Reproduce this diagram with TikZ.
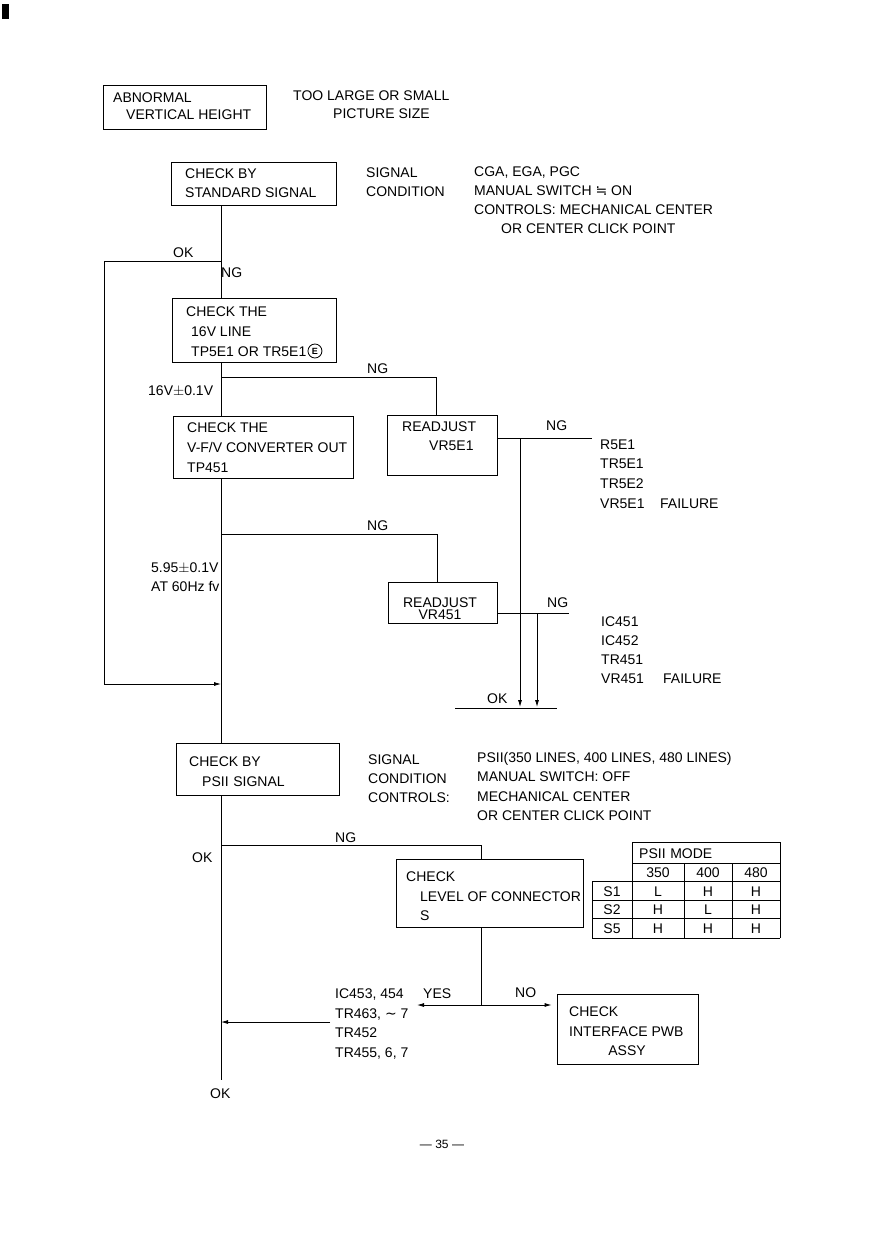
\documentclass[tikz,border=0pt]{standalone}
\usepackage{fontspec}
\setmainfont{Liberation Sans}
\newfontfamily\symf{DejaVu Sans}
\usetikzlibrary{arrows.meta}
\begin{document}
\begin{tikzpicture}[x=1pt,y=-1pt,
  every node/.style={inner sep=0pt},
  t/.style={anchor=west, text height=10pt, text depth=0pt, font=\fontsize{14}{16}\selectfont},
  tc/.style={t, anchor=center},
  box/.style={draw, line width=0.8pt, rectangle},
  ln/.style={line width=0.8pt},
  arr/.style={ln, -{Latex[length=7pt,width=4pt]}}]
\useasboundingbox (0,0) rectangle (888,1257);
\fill (2,4) rectangle (9,19);

% boxes
\node[box, minimum width=163pt, minimum height=44pt] (b1) at (184.5,107) {};
\node[box, minimum width=165pt, minimum height=43pt] (b2) at (253.5,183.5) {};
\node[box, minimum width=164pt, minimum height=64pt] (b3) at (254,330) {};
\node[box, minimum width=180pt, minimum height=62pt] (b4) at (263,447) {};
\node[box, minimum width=110pt, minimum height=60pt] (b5) at (442,445) {};
\node[box, minimum width=109pt, minimum height=41pt] (b6) at (442.5,602.5) {};
\node[box, minimum width=163pt, minimum height=52pt] (b7) at (257.5,769) {};
\node[box, minimum width=187pt, minimum height=68pt] (b8) at (489.5,893) {};
\node[box, minimum width=141pt, minimum height=70pt] (b9) at (627.5,1029) {};

% box texts
\node[t] (t1a) at (113,98) {ABNORMAL};
\node[t] (t1b) at (126,115) {VERTICAL HEIGHT};
\node[t] (t2a) at (185,174) {CHECK BY};
\node[t] (t2b) at (185,193) {STANDARD SIGNAL};
\node[t] (t3a) at (186,311) {CHECK THE};
\node[t] (t3b) at (191,331) {16V LINE};
\node[t] (t3c) at (191,351) {TP5E1 OR TR5E1};
\node[circle, draw, line width=0.8pt, inner sep=0.8pt, minimum size=14pt,
      font=\fontsize{9}{10}\selectfont\bfseries, anchor=west] (ce) at ([xshift=1pt]t3c.east) {E};
\node[t] (t4a) at (187,427) {CHECK THE};
\node[t] (t4b) at (187,447) {V-F/V CONVERTER OUT};
\node[t] (t4c) at (187,467) {TP451};
\node[t] (t5a) at (402,426) {READJUST};
\node[t] (t5b) at (429,445) {VR5E1};
\node[tc] (t6a) at (440,602) {READJUST};
\node[tc] (t6b) at (440,614) {VR451};
\node[t] (t7a) at (189,761) {CHECK BY};
\node[t] (t7b) at (202,781) {PSII\,\,SIGNAL};
\node[t] (t8a) at (406,876) {CHECK};
\node[t] (t8b) at (420,896) {LEVEL OF CONNECTOR};
\node[t] (t8c) at (420,915) {S};
\node[t] (t9a) at (569,1011) {CHECK};
\node[t] (t9b) at (569,1031) {INTERFACE PWB};
\node[tc] (t9c) at (627,1050) {ASSY};

% side texts
\node[t] (s1) at (293,96) {TOO LARGE OR SMALL};
\node[t] (s2) at (333,114) {PICTURE SIZE};
\node[t] (s3) at (366,173) {SIGNAL};
\node[t] (s4) at (366,192) {CONDITION};
\node[t] (s5) at (474,172) {CGA, EGA, PGC};
\node[t] (s6) at (474,191) {MANUAL SWITCH {\symf ≒} ON};
\node[t] (s7) at (474,210) {CONTROLS: MECHANICAL CENTER};
\node[t] (s8) at (501,229) {OR CENTER CLICK POINT};
\node[t] (s9) at (600,444) {R5E1};
\node[t] (s10) at (600,463) {TR5E1};
\node[t] (s11) at (600,483) {TR5E2};
\node[t] (s12) at (600,503) {VR5E1};
\node[t] (s13) at (660,503) {FAILURE};
\node[t] (s14) at (601,621) {IC451};
\node[t] (s15) at (601,640) {IC452};
\node[t] (s16) at (601,659) {TR451};
\node[t] (s17) at (601,678) {VR451};
\node[t] (s18) at (663,678) {FAILURE};
\node[t] (s19) at (368,759) {SIGNAL};
\node[t] (s20) at (368,778) {CONDITION};
\node[t] (s21) at (368,797) {CONTROLS:};
\node[t] (s22) at (477,757) {PSII(350 LINES, 400 LINES, 480 LINES)};
\node[t] (s23) at (477,776) {MANUAL SWITCH: OFF};
\node[t] (s24) at (477,796) {MECHANICAL CENTER};
\node[t] (s25) at (477,815) {OR CENTER CLICK POINT};
\node[t] (s26) at (335,993) {IC453, 454};
\node[t] (s27) at (335,1013) {TR463, {\symf ∼} 7};
\node[t] (s28) at (335,1032) {TR452};
\node[t] (s29) at (335,1052) {TR455, 6, 7};

% branch labels
\node[t] (l1) at (173,253) {OK};
\node[t] (l2) at (221,272) {NG};
\node[t] (l3) at (367,368) {NG};
\node[t] (l4) at (148,390) {16V$\pm$0.1V};
\node[t] (l5) at (546,425) {NG};
\node[t] (l6) at (367,525) {NG};
\node[t] (l7) at (151,567) {5.95$\pm$0.1V};
\node[t] (l8) at (151,586) {AT 60Hz fv};
\node[t] (l9) at (547,602) {NG};
\node[t] (l10) at (487,698) {OK};
\node[t] (l11) at (335,837) {NG};
\node[t] (l12) at (192,857) {OK};
\node[t] (l13) at (423,993) {YES};
\node[t] (l14) at (515,992) {NO};
\node[t] (l15) at (210,1093) {OK};
\node[tc, font=\fontsize{12}{14}\selectfont] (pg) at (442,1143) {— 35 —};

% connectors
\coordinate (mx) at (221,0);
\draw[ln] (b2.south -| mx) -- (b3.north -| mx);
\coordinate (okA) at (221,261);
\coordinate (okB) at (104,261);
\coordinate (okC) at (104,684);
\coordinate (okD) at (221,684);
\draw[arr] (okA) -- (okB) -- (okC) -- (okD);
\draw[ln] (b3.south -| mx) -- (b4.north -| mx);
\coordinate (n1) at (221,377);
\coordinate (n1r) at (436,377);
\draw[ln] (n1) -- (n1r) -- (b5.north -| n1r);
\draw[ln] (b4.south -| mx) -- (b7.north -| mx);
\coordinate (n2) at (221,534);
\coordinate (n2r) at (437,534);
\draw[ln] (n2) -- (n2r) -- (b6.north -| n2r);
\coordinate (f1) at (592,438);
\draw[ln] (b5.east |- f1) -- (f1);
\coordinate (v1) at (520,438);
\coordinate (v1e) at (520,707);
\draw[arr] (v1) -- (v1e);
\coordinate (f2) at (569,613);
\draw[ln] (b6.east |- f2) -- (f2);
\coordinate (v2) at (537,613);
\coordinate (v2e) at (537,707);
\draw[arr] (v2) -- (v2e);
\coordinate (okL) at (455,708);
\coordinate (okR) at (557,708);
\draw[ln] (okL) -- (okR);
\coordinate (mend) at (221,1080);
\draw[ln] (b7.south -| mx) -- (mend);
\coordinate (n3) at (221,845);
\coordinate (n3r) at (481,845);
\draw[ln] (n3) -- (n3r) -- (b8.north -| n3r);
\coordinate (yn) at (481,1005);
\draw[ln] (b8.south -| yn) -- (yn);
\coordinate (yes) at (417,1005);
\draw[arr] (yn) -- (yes);
\draw[arr, shorten >=5pt] (yn) -- (b9.west |- yn);
\coordinate (ra) at (330,1022);
\draw[arr] (ra) -- (ra -| mx);

% table
\draw[ln] (632,842) rectangle (780,863);
\node[t] (h0) at (639,853) {PSII\,\,MODE};
\draw[ln] (632,863) -- (632,938) (780,863) -- (780,938);
\draw[ln] (684,863) -- (684,938) (732,863) -- (732,938);
\draw[ln] (592,881) -- (592,938);
\draw[ln] (592,881) -- (780,881) (592,900) -- (780,900) (592,918) -- (780,918) (592,938) -- (780,938);
\node[tc] (c1) at (658,872) {350};
\node[tc] (c2) at (708,872) {400};
\node[tc] (c3) at (756,872) {480};
\node[tc] (r1) at (612,891) {S1};
\node[tc] (r2) at (612,909) {S2};
\node[tc] (r3) at (612,928) {S5};
\node[tc] (v11) at (658,891) {L};
\node[tc] (v12) at (708,891) {H};
\node[tc] (v13) at (756,891) {H};
\node[tc] (v21) at (658,909) {H};
\node[tc] (v22) at (708,909) {L};
\node[tc] (v23) at (756,909) {H};
\node[tc] (v31) at (658,928) {H};
\node[tc] (v32) at (708,928) {H};
\node[tc] (v33) at (756,928) {H};
\end{tikzpicture}
\end{document}
